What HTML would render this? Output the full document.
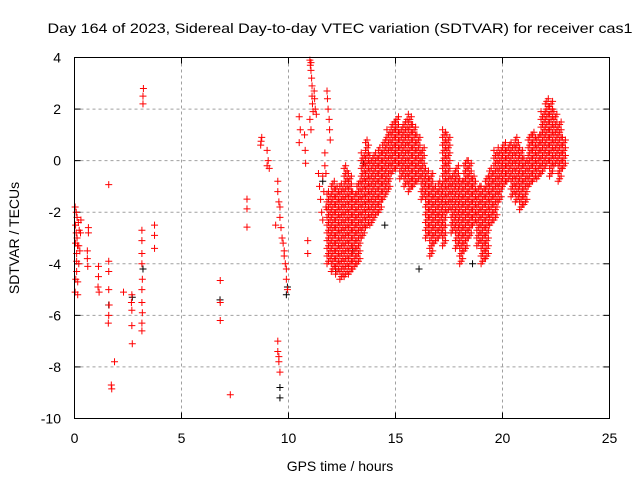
<!DOCTYPE html>
<html><head><meta charset="utf-8"><style>
html,body{margin:0;padding:0;background:#fff;}
svg{display:block;font-family:"Liberation Sans",sans-serif;}
</style></head><body>
<svg id="chart" width="640" height="480" viewBox="0 0 640 480">
<rect x="0" y="0" width="640" height="480" fill="#fff"/>
<text x="340" y="33" text-anchor="middle" font-size="14" textLength="585" lengthAdjust="spacingAndGlyphs">Day 164 of 2023, Sidereal Day-to-day VTEC variation (SDTVAR) for receiver cas1</text>
<text x="0" y="0" transform="translate(19,238) rotate(-90)" text-anchor="middle" font-size="14">SDTVAR / TECUs</text>
<text x="340" y="471" text-anchor="middle" font-size="14">GPS time / hours</text>
<g id="grid"></g>
<g id="ticks"></g>
<g id="marks"></g>
<rect x="74.5" y="57.5" width="535" height="361" fill="none" stroke="#000" stroke-width="1"/>
</svg>
<script>
const xTicks=[0,5,10,15,20,25];
const yTicks=[4,2,0,-2,-4,-6,-8,-10];
// dense envelope region: time, lower, upper
const denseT=[11.8,12.0,12.2,12.4,12.6,12.8,13.0,13.2,13.4,13.6,13.8,14.0,14.2,14.4,14.6,14.8,15.0,15.2,15.4,15.6,15.8,16.0,16.2,16.4,16.6,16.8,17.0,17.2,17.4,17.6,17.8,18.0,18.2,18.4,18.6,18.8,19.0,19.2,19.4,19.6,19.8,20.0,20.2,20.4,20.6,20.8,21.0,21.2,21.4,21.6,21.8,22.0,22.2,22.4,22.6,22.8];
const denseLo=[-4.0,-4.3,-4.4,-4.6,-4.5,-4.4,-4.2,-4.0,-3.0,-2.6,-2.5,-2.2,-2.0,-1.5,-1.2,-0.5,-0.3,-0.7,-1.0,-1.2,-1.0,-0.8,-1.5,-3.0,-3.7,-3.2,-3.0,-3.3,-2.0,-2.8,-3.4,-4.0,-3.5,-3.0,-2.5,-3.3,-4.0,-3.8,-2.5,-2.3,-1.6,-1.0,-0.8,-1.4,-1.6,-1.9,-1.7,-1.0,-0.8,-0.7,-0.5,-0.2,-0.6,-0.2,-0.8,-0.3];
const denseHi=[-1.2,-0.8,-1.0,-0.9,-0.2,-0.5,-1.2,-0.8,0.3,0.8,0.2,0.3,0.5,0.8,1.2,1.5,1.7,1.3,1.6,1.8,1.4,1.0,0.5,-0.3,-0.5,-1.0,-0.8,1.2,1.0,-0.5,-0.2,-0.7,0.0,0.0,-0.6,-1.0,-1.0,-0.6,-0.3,0.4,0.5,0.7,0.6,0.7,0.9,0.5,0.1,1.0,1.1,1.0,1.9,2.4,2.3,1.9,1.5,0.9];
// sparse red points
const spT=[0.03,0.05,0.05,0.08,0.08,0.1,0.1,0.12,0.12,0.15,0.15,0.18,0.2,0.2,0.22,0.25,0.28,0.3,0.03,0.06,0.1,0.14,0.65,0.65,0.6,0.6,0.62,1.12,1.12,1.1,1.15,1.6,1.6,1.6,1.62,1.6,1.58,1.6,1.87,1.72,1.74,2.29,2.68,2.68,2.68,2.7,2.66,3.15,3.15,3.15,3.15,3.17,3.15,3.15,3.17,3.15,3.15,3.74,3.74,3.74,6.81,6.81,6.81,7.28,8.06,8.06,8.06,8.7,8.72,8.75,9.0,9.05,9.1,9.0,9.4,9.5,9.5,9.55,9.6,9.6,9.65,9.7,9.75,9.8,9.8,9.85,9.9,9.9,9.95,9.5,9.5,9.55,9.6,9.55,10.5,10.55,10.5,10.78,10.8,10.75,10.9,10.9,
11.0,11.02,11.05,11.05,11.08,11.1,11.1,11.12,11.15,11.0,11.05,11.2,11.22,11.25,11.3,11.4,11.45,11.5,11.55,11.6,11.6,11.65,11.7,11.75,11.8,11.82,11.85,11.9,11.92,11.95,11.7,11.75];
const spV=[-1.8,-2.5,-3.2,-2.0,-2.8,-3.6,-4.3,-2.2,-3.0,-4.7,-5.2,-2.4,-3.3,-4.0,-2.7,-3.5,-2.8,-2.3,-5.1,-4.6,-3.9,-3.3,-2.6,-2.8,-3.5,-3.8,-4.1,-4.1,-4.5,-4.9,-5.1,-3.9,-4.3,-5.0,-5.6,-6.0,-6.3,-0.93,-7.8,-8.7,-8.85,-5.1,-5.2,-5.8,-6.4,-7.1,-5.5,-2.7,-3.1,-3.6,-4.0,-4.6,-5.0,-5.5,-5.9,-6.3,-6.6,-2.5,-2.9,-3.4,-4.65,-5.5,-6.2,-9.08,-1.49,-1.87,-2.58,0.6,0.75,0.9,0.4,0.0,-0.3,-0.2,-2.5,-0.8,-1.2,-1.6,-1.8,-2.2,-2.6,-3.0,-3.2,-3.5,-3.7,-4.0,-4.2,-4.6,-5.0,-7.0,-7.4,-7.8,-8.2,-7.6,1.7,1.2,0.7,0.4,-0.1,1.0,-3.1,-3.6,
3.9,3.7,3.8,3.5,3.2,2.9,2.5,2.2,1.9,1.6,1.2,2.7,2.4,2.0,1.8,-0.5,-1.0,-1.5,-2.0,-0.6,-2.3,-1.2,-0.2,-1.8,2.7,2.4,2.0,1.6,1.2,0.8,0.3,-0.5];
const spT2=[3.2,3.2,3.22];
const spV2=[2.2,2.5,2.8];
// black points
const blkT=[9.6,9.6,9.9,9.95,16.1,18.6,13.0,13.5,12.2,14.5,1.6,2.7,3.2,6.8,11.6];
const blkV=[-9.2,-8.8,-5.2,-4.9,-4.2,-4.0,-3.5,-0.1,-4.3,-2.5,-5.6,-5.3,-4.2,-5.4,-0.8];

const X0=74.5,X1=609.5,Y0=57.5,Y1=418.5;
function sx(t){return X0+(t-0)/(25-0)*(X1-X0);}
function sy(v){return Y0+(4-v)/(4-(-10))*(Y1-Y0);}
const NS='http://www.w3.org/2000/svg';
const grid=document.getElementById('grid'),ticks=document.getElementById('ticks'),marks=document.getElementById('marks');
function mk(tag,attrs,parent){const e=document.createElementNS(NS,tag);for(const k in attrs)e.setAttribute(k,attrs[k]);parent.appendChild(e);return e;}
xTicks.forEach(t=>{
  const x=sx(t);
  if(t>0&&t<25){const g=mk('line',{x1:x,y1:Y0,x2:x,y2:Y1,stroke:'#a0a0a0','stroke-dasharray':'3,3','stroke-width':1},grid);
  
  }
  mk('line',{x1:x,y1:Y1,x2:x,y2:Y1-6,stroke:'#000'},ticks);
  mk('line',{x1:x,y1:Y0,x2:x,y2:Y0+6,stroke:'#000'},ticks);
  const l=mk('text',{x:x,y:443,'text-anchor':'middle','font-size':14},ticks);
  l.textContent=t;
  
  
});
yTicks.forEach(v=>{
  const y=sy(v);
  if(v<4&&v>-10){const g=mk('line',{x1:X0,y1:y,x2:X1,y2:y,stroke:'#a0a0a0','stroke-dasharray':'3,3','stroke-width':1},grid);
  
  }
  mk('line',{x1:X0,y1:y,x2:X0+6,y2:y,stroke:'#000'},ticks);
  mk('line',{x1:X1,y1:y,x2:X1-6,y2:y,stroke:'#000'},ticks);
  const l=mk('text',{x:61,y:y+5,'text-anchor':'end','font-size':14},ticks);
  l.textContent=v;
  
  
});
function plus(t,v,col,name){
  const x=sx(t),y=sy(v);
  const p=mk('path',{d:`M${x-3.5},${y}h7M${x},${y-3.5}v7`,stroke:col,'stroke-width':1,fill:'none'},marks);
  
  
}
blkT.forEach((t,i)=>plus(t,blkV[i],'#000','black-point'));
denseT.forEach((t,i)=>{
  const lo=denseLo[i],hi=denseHi[i];
  let k=0;
  for(let v=lo;v<=hi+1e-6;v+=0.1){plus(t+(k%3)*0.07,v,'#ff0000','red-dense-point');k++;}
});
spT.forEach((t,i)=>plus(t,spV[i],'#ff0000','red-point'));
spT2.forEach((t,i)=>plus(t,spV2[i],'#ff0000','red-point'));
</script>
</body></html>
